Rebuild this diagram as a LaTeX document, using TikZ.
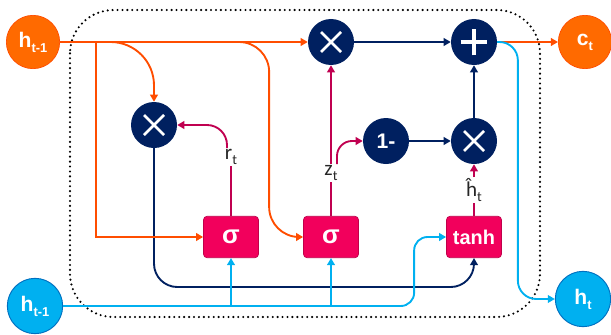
\documentclass[tikz,border=0pt]{standalone}
\usepackage{fontspec}
\setmainfont{Liberation Sans}
\newfontfamily\lblfont{Carlito}
\usetikzlibrary{positioning}
\usetikzlibrary{calc}
\usetikzlibrary{arrows.meta}
\definecolor{hcorange}{HTML}{FF6A00}
\definecolor{hcorangeline}{HTML}{FF4D00}
\definecolor{navyop}{HTML}{002060}
\definecolor{gatepink}{HTML}{F2005C}
\definecolor{gateedge}{HTML}{C0004A}
\definecolor{gateline}{HTML}{C00050}
\definecolor{hblue}{HTML}{00B0F0}
\definecolor{hblueedge}{HTML}{0070C0}
\newcommand\lowsub[1]{\raisebox{-0.45ex}{\fontsize{11}{11}\selectfont #1}}
\newcommand\lblsub[1]{\raisebox{-0.45ex}{\fontsize{12}{12}\selectfont #1}}

\begin{document}
\begin{tikzpicture}
  [x=0.03cm,y=-0.03cm,>={Triangle[length=6pt,width=6.5pt]},
  orangedot/.style={circle,fill=hcorange,draw=hcorangeline,line width=0.6pt,text=white,font=\bfseries\fontsize{18}{18}\selectfont,minimum size=1.6cm,inner sep=0pt},
  bluedot/.style={circle,fill=hblue,draw=hblueedge,line width=0.8pt,text=white,font=\bfseries\fontsize{18}{18}\selectfont,minimum size=1.66cm,inner sep=0pt},
  opdot/.style={circle,fill=navyop,draw=none,minimum size=1.38cm,inner sep=0pt,text=white,font=\bfseries\fontsize{18}{18}\selectfont},
  muldot/.style={opdot,path picture={\draw[white,line width=2.4pt] ([shift={(-0.3cm,-0.3cm)}]path picture bounding box.center) -- ++(0.6cm,0.6cm) ([shift={(-0.3cm,0.3cm)}]path picture bounding box.center) -- ++(0.6cm,-0.6cm);}},
  adddot/.style={opdot,path picture={\draw[white,line width=3.2pt] ([shift={(-0.4cm,0cm)}]path picture bounding box.center) -- ++(0.8cm,0cm) ([shift={(0cm,-0.4cm)}]path picture bounding box.center) -- ++(0cm,0.8cm);}},
  gatebox/.style={rectangle,rounded corners=3pt,fill=gatepink,draw=gateedge,line width=0.6pt,minimum width=1.65cm,minimum height=1.24cm,text=white,font=\bfseries\fontsize{17}{17}\selectfont},
  lbl/.style={inner sep=1pt,font=\lblfont\fontsize{18}{18}\selectfont,text=black!85},
  orangeline/.style={hcorangeline,line width=1.6pt},
  navyline/.style={navyop,line width=1.6pt},
  gateflow/.style={gateline,line width=1.6pt},
  blueline/.style={hblue,line width=1.6pt},
  dotbox/.style={line width=2pt,line cap=round,dash pattern=on 0pt off 4.2pt,rounded corners=1.3cm}]
  \useasboundingbox (0,0) rectangle (611,335);

  \draw[dotbox] (70,10) rectangle (540,317);

  \node[orangedot] (hprev) at (33,42) {h\lowsub{t-1}};
  \node[orangedot] (ct) at (585,42) {c\lowsub{t}};
  \node[bluedot] (hprevb) at (35,306) {h\lowsub{t-1}};
  \node[bluedot] (ht) at (583,299) {h\lowsub{t}};

  \node[muldot] (mulT) at (331,42) {};
  \node[adddot] (add) at (474,42) {};
  \node[muldot] (mulL) at (154,125) {};
  \node[opdot] (one) at (386,141) {1-};
  \node[muldot] (mulR) at (474,141) {};

  \node[gatebox,font=\bfseries\fontsize{22}{22}\selectfont] (sigr) at (231,237) {σ};
  \node[gatebox,font=\bfseries\fontsize{22}{22}\selectfont] (sigz) at (331,237) {σ};
  \node[gatebox] (tanh) at (474,237) {tanh};

  \node[lbl] (rt) at (231,157) {r\lblsub{t}};
  \node[lbl] (zt) at (331,173) {z\lblsub{t}};
  \node[lbl] (hh) at (474,190) {ĥ\lblsub{t}};

  \draw[navyline,->] (mulT) -- (add);
  \draw[navyline,->] (one) -- (mulR);
  \draw[navyline,->] (mulR) -- (add);
  \draw[navyline,->,rounded corners=0.7cm] (mulL.south) |- ($(tanh.south)+(0,29)$) -- (tanh.south);

  \coordinate (split) at ($(hprev.east)+(36,0)$);
  \draw[orangeline,->] (hprev) -- (mulT);
  \draw[orangeline,->,rounded corners=1.3cm] (hprev.east) -| (mulL.north);
  \draw[orangeline,->] (split) |- (sigr.west);
  \draw[orangeline,->,rounded corners=0.9cm] (hprev.east) -| ($(sigz.west)+(-34,0)$) -- (sigz.west);
  \draw[orangeline,->] (add) -- (ct);

  \draw[gateflow] (sigr) -- (rt);
  \draw[gateflow,->,rounded corners=0.6cm] ($(rt.north)+(-4,0)$) |- (mulL.east);
  \draw[gateflow] (sigz) -- (zt);
  \draw[gateflow,->] (zt) -- (mulT);
  \draw[gateflow,->,rounded corners=0.45cm] ($(zt.north)+(6,0)$) |- (one.west);
  \draw[gateflow] (tanh) -- (hh);
  \draw[gateflow,->] (hh) -- (mulR);

  \coordinate (dropR) at ($(ht.west)+(-37,0)$);
  \draw[blueline,->,rounded corners=0.4cm] (hprevb.east) -| ($(tanh.west)+(-32,0)$) -- (tanh.west);
  \draw[blueline,->] (sigr.south |- hprevb.east) -- (sigr.south);
  \draw[blueline,->] (sigz.south |- hprevb.east) -- (sigz.south);
  \draw[blueline,->,rounded corners=0.55cm] (add.east) -| (dropR) -- (ht.west);

\end{tikzpicture}
\end{document}
